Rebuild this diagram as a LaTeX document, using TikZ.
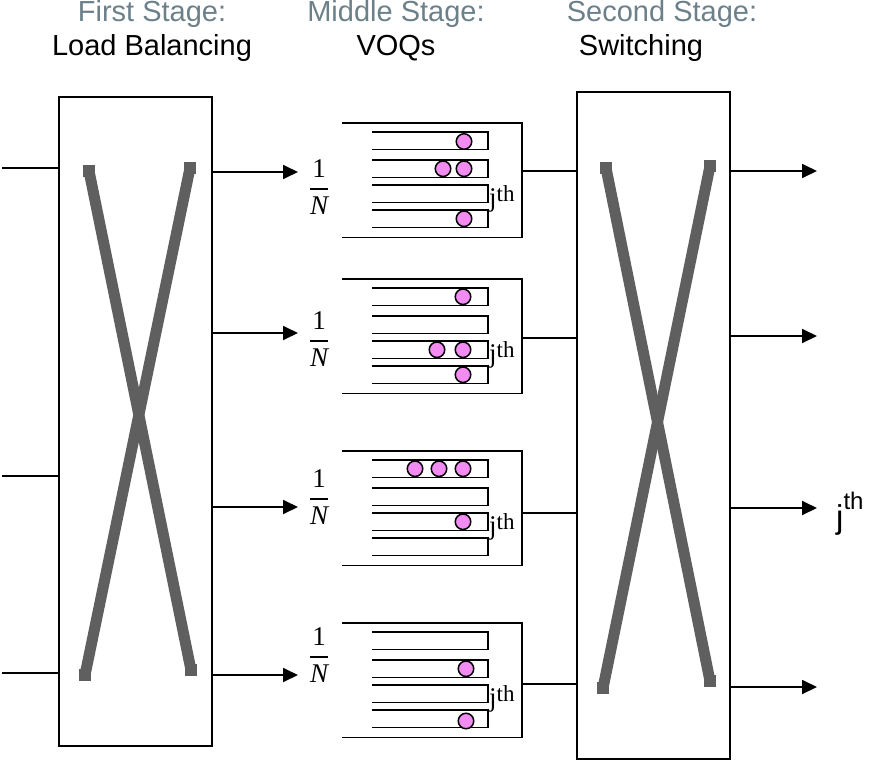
\RequirePackage{fix-cm}
\documentclass[tikz,border=0pt]{standalone}
\usepackage{fontspec}
\setmainfont{Liberation Serif}
\newfontfamily\headfont{Liberation Sans}
\usetikzlibrary{arrows.meta}

\definecolor{stagegray}{RGB}{108,128,138}
\definecolor{xgray}{RGB}{95,95,95}
\definecolor{cellpink}{RGB}{242,140,242}

% share of traffic sent to each VOQ block
\newcommand\sharefrac{$\displaystyle{\hbox{1}\above 2.2pt\hbox{\itshape N}}$}

% one VOQ block: #1 name, #2 top edge, #3 height of the outgoing link, #4 packets (x/y)
\newcommand\voqgroup[4]{%
  \begin{scope}[shift={(0,#2)}]
    \draw[link] (342,0) -| (522,114.5) -- (342,114.5);
    \coordinate (#1-out) at (522,#3);
    \foreach \t in {9,37,62,87}{
      \draw[link] (372,\t) -| (488,\t+17.5) -- (372,\t+17.5);
    }
    \foreach \px/\py [count=\k] in {#4}{
      \node[cell] (#1-c\k) at (\px,\py) {};
    }
    \node[qlabel] (#1-j) at (489,83) {j\raisebox{5pt}{\fontsize{23}{24}\selectfont th}};
  \end{scope}}

\begin{document}
\begin{tikzpicture}[x=1pt,y=-1pt,
  frame/.style={draw, line width=1.8pt, inner sep=0pt, outer sep=0pt},
  link/.style={line width=1.8pt},
  feed/.style={line width=1.8pt, -{Triangle[length=15pt,width=14pt]}},
  head/.style={font=\headfont\fontsize{29}{32}\selectfont, anchor=base, inner sep=0pt},
  crossbar/.style={draw=xgray, line width=11pt},
  crossend/.style={fill=xgray, minimum size=12pt, inner sep=0pt, outer sep=0pt},
  cell/.style={circle, draw, fill=cellpink, line width=1.5pt, minimum size=15.5pt, inner sep=0pt},
  share/.style={font=\fontsize{27}{32}\selectfont, inner sep=0pt},
  qlabel/.style={anchor=base west, inner sep=0pt, font=\fontsize{27}{30}\selectfont},
]
\useasboundingbox (0,0) rectangle (874,760);

% stage titles
\node[head, text=stagegray] (t1a) at (152,22) {First Stage:};
\node[head] (t1b) at (152,56) {Load Balancing};
\node[head, text=stagegray] (t2a) at (396,22) {Middle Stage:};
\node[head] (t2b) at (396,56) {VOQs};
\node[head, text=stagegray] (t3a) at (662,22) {Second Stage:};
\node[head] (t3b) at (641,56) {Switching};

% switch fabrics
\node[frame, minimum width=153pt, minimum height=649pt] (lb) at (135.5,421.5) {};
\node[frame, minimum width=153pt, minimum height=667pt] (sw) at (653.5,425.5) {};

% crossed paths inside the load-balancing fabric
\node[crossend] (lbA1) at (89,171) {};
\node[crossend] (lbA2) at (191,670) {};
\node[crossend] (lbB1) at (190,168) {};
\node[crossend] (lbB2) at (85,675) {};
\draw[crossbar] (lbA1.center) -- (lbA2.center);
\draw[crossbar] (lbB1.center) -- (lbB2.center);

% crossed paths inside the switching fabric
\node[crossend] (swA1) at (606,168) {};
\node[crossend] (swA2) at (710,681) {};
\node[crossend] (swB1) at (710,166) {};
\node[crossend] (swB2) at (603,688) {};
\draw[crossbar] (swA1.center) -- (swA2.center);
\draw[crossbar] (swB1.center) -- (swB2.center);

% inputs
\coordinate (in1) at (2,168);
\coordinate (in3) at (2,476);
\coordinate (in4) at (2,673);
\foreach \i in {1,3,4} \draw[link] (in\i) -- (in\i -| lb.west);

% load-balanced feeds into the VOQ blocks
\coordinate (s1) at (298,172);
\coordinate (s2) at (298,333);
\coordinate (s3) at (298,507);
\coordinate (s4) at (298,675);
\foreach \i in {1,...,4} \draw[feed] (s\i -| lb.east) -- (s\i);

% 1/N shares
\node[share] (f1) at (319,187) {\sharefrac};
\node[share] (f2) at (319,339) {\sharefrac};
\node[share] (f3) at (319,497) {\sharefrac};
\node[share] (f4) at (319,655) {\sharefrac};

% VOQ blocks
\voqgroup{g1}{123}{48}{464/18.5,443/45.75,464/45.75,464/95.75}
\voqgroup{g2}{279}{59}{463/17.75,437/70.75,463/70.75,463/95.75}
\voqgroup{g3}{451}{62}{415/17.75,439/17.75,463/17.75,463/70.75}
\voqgroup{g4}{623}{61}{466/45.75,466/98}

\foreach \g in {g1,g2,g3,g4} \draw[link] (\g-out) -- (\g-out -| sw.west);

% outputs
\coordinate (o1) at (817,171);
\coordinate (o2) at (817,336);
\coordinate (o3) at (817,508);
\coordinate (o4) at (817,687);
\foreach \i in {1,...,4} \draw[feed] (o\i -| sw.east) -- (o\i);

\node[anchor=base west, inner sep=0pt, font=\headfont\fontsize{33}{36}\selectfont] (outj) at (836,528)
  {j\raisebox{19pt}{\fontsize{24}{26}\selectfont th}};
\end{tikzpicture}
\end{document}
